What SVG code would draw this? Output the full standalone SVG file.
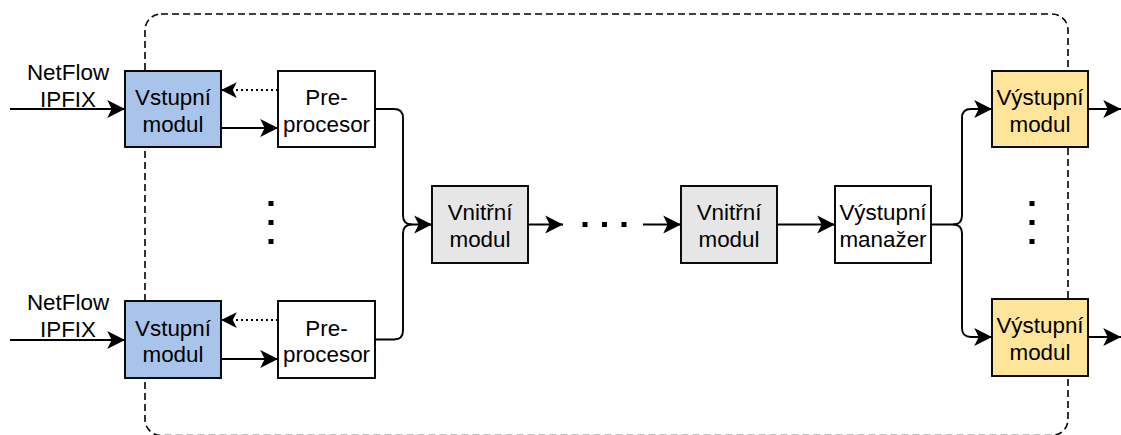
<svg xmlns="http://www.w3.org/2000/svg" width="1121" height="435" viewBox="0 0 1121 435">
  <defs>
    <marker id="arrow" markerUnits="userSpaceOnUse" markerWidth="20" markerHeight="20" viewBox="-17 -9 18 18" refX="0" refY="0" orient="auto">
      <path d="M0,0 L-16,-8 L-12,0 L-16,8 Z" fill="#000"/>
    </marker>
    <marker id="arrowSmall" markerUnits="userSpaceOnUse" markerWidth="18" markerHeight="18" viewBox="-15 -8 16 16" refX="0" refY="0" orient="auto">
      <path d="M0,0 L-14,-7 L-10.5,0 L-14,7 Z" fill="#000"/>
    </marker>
    <style>
      .box { stroke: #000; stroke-width: 1.9; }
      .in { fill: #A9C4EB; }
      .plain { fill: #FFFFFF; }
      .inner { fill: #E6E6E6; }
      .out { fill: #FFE599; }
      .lbl { font-family: "Liberation Sans", Arial, Helvetica, sans-serif; font-size: 22.4px; fill: #000; text-anchor: middle; }
      .edge { fill: none; stroke: #000; stroke-width: 1.9; }
      .dotted { fill: none; stroke: #000; stroke-width: 1.9; stroke-dasharray: 2 3; }
      .frame { fill: none; stroke: #000; stroke-width: 1.6; stroke-dasharray: 7 4; }
      .dot { fill: #000; }
    </style>
  </defs>

  <!-- system boundary (bottom edge runs along the lower border) -->
  <rect class="frame" x="145" y="14" width="923" height="421.5" rx="16" ry="16"/>

  <!-- connectors -->
  <g id="connectors">
    <!-- inputs -->
    <path class="edge" d="M10,109 H125" marker-end="url(#arrow)"/>
    <path class="edge" d="M10,340 H125" marker-end="url(#arrow)"/>
    <!-- input module to preprocessor -->
    <path class="edge" d="M221,128 H278" marker-end="url(#arrow)"/>
    <path class="edge" d="M221,359 H278" marker-end="url(#arrow)"/>
    <!-- preprocessor feedback -->
    <path class="dotted" d="M278,90 H221" marker-end="url(#arrowSmall)"/>
    <path class="dotted" d="M278,320 H221" marker-end="url(#arrowSmall)"/>
    <!-- preprocessors merging into the first inner module -->
    <path class="edge" d="M375,109 H394 Q403,109 403,118 V215.5 Q403,224.5 412,224.5 H432" marker-end="url(#arrow)"/>
    <path class="edge" d="M375,339.5 H394 Q403,339.5 403,330.5 V233.5 Q403,224.5 412,224.5"/>
    <!-- inner chain -->
    <path class="edge" d="M528,224.5 H563" marker-end="url(#arrow)"/>
    <path class="edge" d="M643,224.5 H681" marker-end="url(#arrow)"/>
    <path class="edge" d="M777,224.5 H835" marker-end="url(#arrow)"/>
    <!-- output manager fan-out -->
    <path class="edge" d="M931,224.5 H953 Q962,224.5 962,215.5 V118 Q962,109 971,109 H992" marker-end="url(#arrow)"/>
    <path class="edge" d="M953,224.5 Q962,224.5 962,233.5 V328 Q962,337 971,337 H992" marker-end="url(#arrow)"/>
    <!-- outputs -->
    <path class="edge" d="M1088,109 H1121" marker-end="url(#arrow)"/>
    <path class="edge" d="M1088,337 H1121" marker-end="url(#arrow)"/>
  </g>

  <!-- input labels -->
  <g id="label-in-1">
    <text class="lbl" x="68" y="80">NetFlow</text>
    <text class="lbl" x="68" y="107">IPFIX</text>
  </g>
  <g id="label-in-2">
    <text class="lbl" x="68" y="310">NetFlow</text>
    <text class="lbl" x="68" y="337">IPFIX</text>
  </g>

  <!-- input modules -->
  <g id="input-module-1">
    <rect class="box in" x="125" y="71" width="96" height="76"/>
    <text class="lbl" x="173" y="105">Vstupní</text>
    <text class="lbl" x="173" y="131.5">modul</text>
  </g>
  <g id="input-module-2">
    <rect class="box in" x="125" y="301" width="96" height="77"/>
    <text class="lbl" x="173" y="335.5">Vstupní</text>
    <text class="lbl" x="173" y="362">modul</text>
  </g>

  <!-- preprocessors -->
  <g id="preprocessor-1">
    <rect class="box plain" x="278" y="71" width="97" height="76"/>
    <text class="lbl" x="326.5" y="105">Pre-</text>
    <text class="lbl" x="326.5" y="131.5">procesor</text>
  </g>
  <g id="preprocessor-2">
    <rect class="box plain" x="278" y="301" width="97" height="77"/>
    <text class="lbl" x="326.5" y="335.5">Pre-</text>
    <text class="lbl" x="326.5" y="362">procesor</text>
  </g>

  <!-- vertical ellipsis between inputs -->
  <g id="ellipsis-inputs">
    <rect class="dot" x="268.5" y="201" width="5" height="5"/>
    <rect class="dot" x="268.5" y="220" width="5" height="5"/>
    <rect class="dot" x="268.5" y="239" width="5" height="5"/>
  </g>

  <!-- inner modules -->
  <g id="inner-module-1">
    <rect class="box inner" x="432" y="186" width="96" height="77"/>
    <text class="lbl" x="480" y="220">Vnitřní</text>
    <text class="lbl" x="480" y="246.5">modul</text>
  </g>
  <g id="ellipsis-inner">
    <rect class="dot" x="582.5" y="222" width="5" height="5"/>
    <rect class="dot" x="602" y="222" width="5" height="5"/>
    <rect class="dot" x="621.5" y="222" width="5" height="5"/>
  </g>
  <g id="inner-module-2">
    <rect class="box inner" x="681" y="186" width="96" height="77"/>
    <text class="lbl" x="729" y="220">Vnitřní</text>
    <text class="lbl" x="729" y="246.5">modul</text>
  </g>

  <!-- output manager -->
  <g id="output-manager">
    <rect class="box plain" x="835" y="186" width="96" height="77"/>
    <text class="lbl" x="883" y="220">Výstupní</text>
    <text class="lbl" x="883" y="246.5">manažer</text>
  </g>

  <!-- output modules -->
  <g id="output-module-1">
    <rect class="box out" x="992" y="71" width="96" height="76"/>
    <text class="lbl" x="1040" y="105">Výstupní</text>
    <text class="lbl" x="1040" y="131.5">modul</text>
  </g>
  <g id="ellipsis-outputs">
    <rect class="dot" x="1029.5" y="201" width="5" height="5"/>
    <rect class="dot" x="1029.5" y="220" width="5" height="5"/>
    <rect class="dot" x="1029.5" y="239" width="5" height="5"/>
  </g>
  <g id="output-module-2">
    <rect class="box out" x="992" y="299" width="96" height="77"/>
    <text class="lbl" x="1040" y="333">Výstupní</text>
    <text class="lbl" x="1040" y="359.5">modul</text>
  </g>
</svg>
